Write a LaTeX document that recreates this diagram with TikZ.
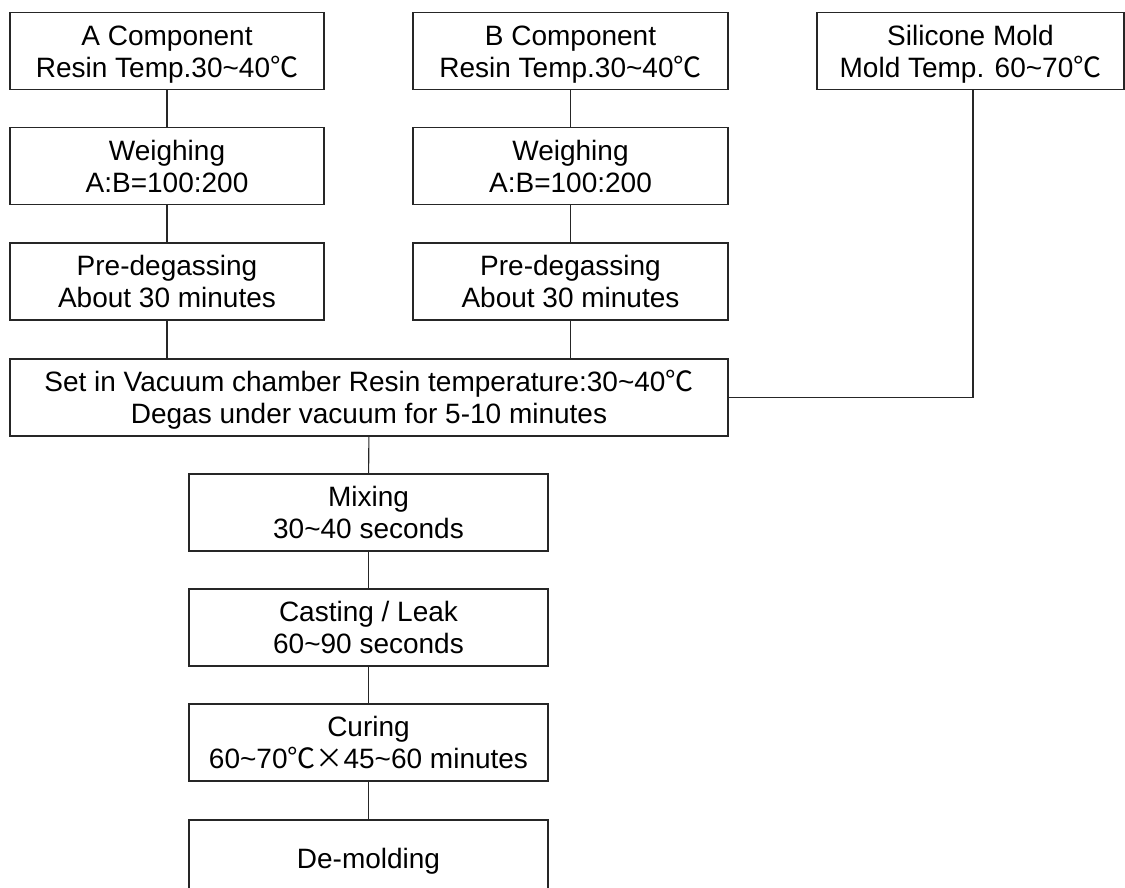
\documentclass[tikz,border=0pt]{standalone}
\usepackage{fontspec}
\setmainfont{Liberation Sans}
\newfontfamily\cjk{Noto Sans CJK JP}
\newcommand{\dgc}{{\cjk ℃}}
\newcommand{\tms}{{\cjk ×}}
\newcommand{\twol}[2]{\rule{0pt}{20pt}#1\\#2\rule[-4.5pt]{0pt}{4.5pt}}
\newcommand{\onel}[1]{\rule[-4.5pt]{0pt}{24.5pt}#1}
\tikzset{
  box/.style={draw=black!85, line width=0.8pt, align=center, inner sep=0pt,
    font=\fontsize{21}{24}\selectfont},
  colbox/.style={box, minimum width=314*0.75pt, minimum height=77*0.75pt},
  midbox/.style={box, minimum width=359*0.75pt, minimum height=77*0.75pt},
  link/.style={draw=black!85, line width=0.8pt}
}
\begin{document}
\begin{tikzpicture}[x=0.75pt, y=-0.75pt]
\useasboundingbox (0,0) rectangle (1125,888);
\clip (0,0) rectangle (1125,888);
% column A
\node[colbox] (A)  at (167,51)    {\twol{A Component}{Resin Temp.30\textasciitilde 40\dgc}};
\node[colbox] (WA) at (167,166)   {\twol{Weighing}{A:B=100:200}};
\node[colbox] (PA) at (167,281.5) {\twol{Pre-degassing}{About 30 minutes}};
% column B
\node[colbox, minimum width=315*0.75pt] (B)  at (570.5,51)    {\twol{B Component}{Resin Temp.30\textasciitilde 40\dgc}};
\node[colbox, minimum width=315*0.75pt] (WB) at (570.5,166)   {\twol{Weighing}{A:B=100:200}};
\node[colbox, minimum width=315*0.75pt] (PB) at (570.5,281.5) {\twol{Pre-degassing}{About 30 minutes}};
% mold
\node[box, minimum width=307*0.75pt, minimum height=77*0.75pt] (S) at (970.5,51) {\twol{Silicone Mold}{Mold Temp. 60\textasciitilde 70\dgc}};
% vacuum
\node[box, minimum width=718*0.75pt, minimum height=77*0.75pt] (V) at (369,397.5)
  {\twol{Set in Vacuum chamber Resin temperature:30\textasciitilde 40\dgc}{Degas under vacuum for 5-10 minutes}};
% lower chain
\node[midbox] (M)  at (368.5,512.5) {\twol{Mixing}{30\textasciitilde 40 seconds}};
\node[midbox] (C)  at (368.5,627.5) {\twol{Casting / Leak}{60\textasciitilde 90 seconds}};
\node[midbox] (K)  at (368.5,742.5) {\twol{Curing}{60\textasciitilde 70\dgc\tms 45\textasciitilde 60 minutes}};
\node[midbox] (D)  at (368.5,858.5) {\onel{De-molding}};
% connectors
\draw[link] (A) -- (WA);
\draw[link] (WA) -- (PA);
\draw[link] (PA.south) -- (PA.south |- V.north);
\draw[link] (B) -- (WB);
\draw[link] (WB) -- (PB);
\draw[link] (PB.south) -- (PB.south |- V.north);
\draw[link] ([xshift=2.5*0.75pt]S.south) |- (V.east);
\draw[link] (V) -- (M);
\draw[link] (M) -- (C);
\draw[link] (C) -- (K);
\draw[link] (K) -- (D);
\end{tikzpicture}
\end{document}
